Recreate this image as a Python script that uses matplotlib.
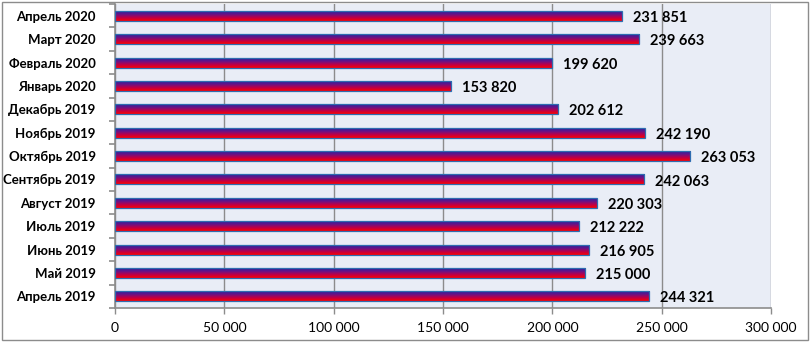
import numpy as np
import matplotlib.pyplot as plt
from matplotlib.colors import LinearSegmentedColormap
from matplotlib.patches import Rectangle

# data, bottom to top
months = ["Апрель 2019", "Май 2019", "Июнь 2019", "Июль 2019", "Август 2019",
          "Сентябрь 2019", "Октябрь 2019", "Ноябрь 2019", "Декабрь 2019",
          "Январь 2020", "Февраль 2020", "Март 2020", "Апрель 2020"]
values = [244321, 215000, 216905, 212222, 220303, 242063, 263053,
          242190, 202612, 153820, 199620, 239663, 231851]
x_ticks = [0, 50000, 100000, 150000, 200000, 250000, 300000]

plt.rcParams['font.family'] = ['Lato', 'DejaVu Sans']


def fmt(v):
    return f"{v:,}".replace(",", " ")


fig = plt.figure(figsize=(8.11, 3.42), dpi=100)
ax = fig.add_axes([0.1418, 0.0994, 0.8089, 0.8886])
ax.set_facecolor("#E9EDF6")

# outer frame
fig.patches.append(Rectangle((0.003, 0.006), 0.993, 0.988, transform=fig.transFigure,
                             fill=False, edgecolor="#8c8c8c", linewidth=1))

ypos = np.arange(len(months))
bar_h = 0.43
cmap = LinearSegmentedColormap.from_list("grad", ["#FF0000", "#B8004C", "#5a1890", "#1c1c90"])
grad = np.linspace(0, 1, 64).reshape(-1, 1)

bars = ax.barh(ypos, values, height=bar_h, facecolor="none",
               edgecolor="#2E6DB0", linewidth=0.9, zorder=3)
for b, v, y in zip(bars, values, ypos):
    im = ax.imshow(grad, cmap=cmap, aspect="auto", origin="lower",
                   extent=[0, v, y - bar_h / 2, y + bar_h / 2], zorder=2)
    im.set_clip_path(b)
    ax.annotate(fmt(v), (v, y), xytext=(8, -1.5), textcoords="offset points",
                va="center", ha="left", fontsize=10.5, fontweight="bold", zorder=4)

ax.set_xlim(0, 300000)
ax.set_ylim(-0.5, len(months) - 0.5)

ax.set_xticks(x_ticks)
ax.set_xticklabels([fmt(t) for t in x_ticks], fontsize=10)
ax.set_yticks(ypos)
ax.set_yticklabels(months, fontsize=9.5, fontweight="bold")
ax.set_yticks(np.arange(len(months) + 1) - 0.5, minor=True)

ax.tick_params(axis="y", which="major", length=0, pad=14)
ax.tick_params(axis="y", which="minor", length=4, color="#8c8c8c", width=1.2)
ax.tick_params(axis="x", which="major", length=4, color="#8c8c8c", width=1, pad=6)

ax.grid(axis="x", color="#8c8c8c", linewidth=1, zorder=1)
ax.set_axisbelow(True)
for side in ["top", "right"]:
    ax.spines[side].set_visible(False)
for side in ["left", "bottom"]:
    ax.spines[side].set_color("#8c8c8c")
    ax.spines[side].set_linewidth(1.2)

fig.savefig("out.png", dpi=100)
